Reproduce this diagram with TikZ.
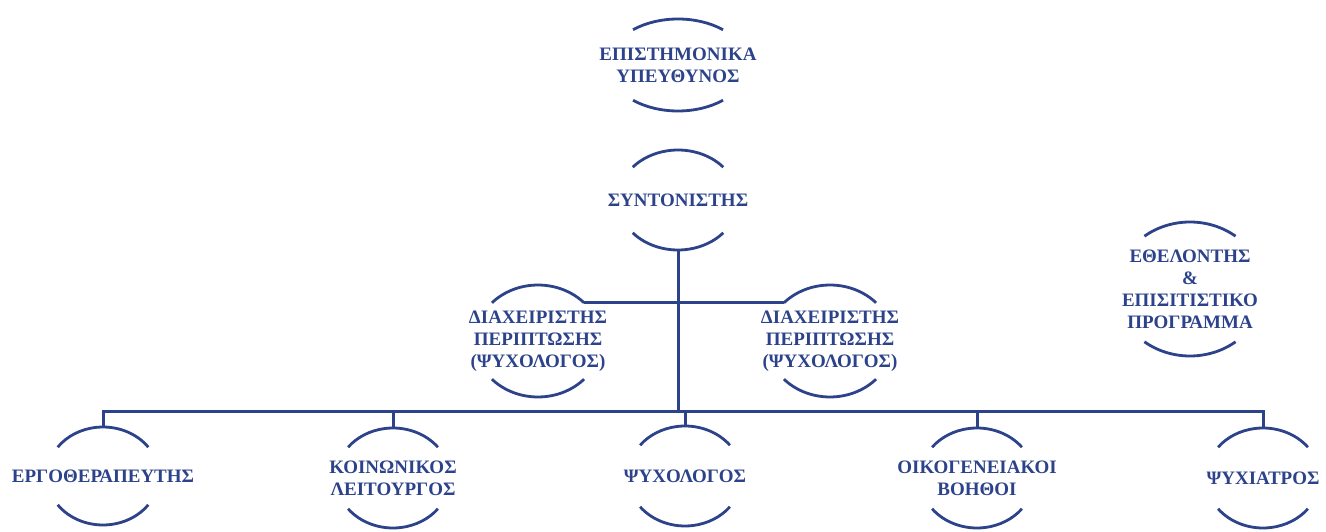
\documentclass[tikz,border=0pt]{standalone}
\usepackage{fontspec}
\setmainfont{Liberation Serif}
\definecolor{navy}{RGB}{44,66,138}

% top and bottom arcs of an oval round a node: name, x radius, y radius, start angle
\newcommand\ovalarcs[4]{%
  \draw[rim] (#1.center) ++(#4:#2 and #3) coordinate (#1-ne)
    arc[start angle=#4, end angle={180-#4}, x radius=#2, y radius=#3] coordinate (#1-nw);
  \draw[rim] (#1.center) ++({180+#4}:#2 and #3)
    arc[start angle={180+#4}, end angle={360-#4}, x radius=#2, y radius=#3];
  \path (#1.center) ++(0,#3) coordinate (#1-top);
  \path (#1.center) ++(0,-#3) coordinate (#1-bot);
}

\begin{document}
\begin{tikzpicture}[x=1pt,y=1pt]
\tikzstyle{role}=[text=navy, font=\bfseries\fontsize{19}{22}\selectfont, align=center, inner sep=0pt]
\tikzstyle{rim}=[draw=navy, line width=2.8pt]
\tikzstyle{wire}=[draw=navy, line width=3pt]

\useasboundingbox (0,0) rectangle (1326,531);

\draw (678,466) node[role] (head) {ΕΠΙΣΤΗΜΟΝΙΚΑ\\ΥΠΕΥΘΥΝΟΣ};
\draw (678,331) node[role] (synt) {ΣΥΝΤΟΝΙΣΤΗΣ};
\draw (538,190) node[role] (diaxL) {ΔΙΑΧΕΙΡΙΣΤΗΣ\\ΠΕΡΙΠΤΩΣΗΣ\\(ΨΥΧΟΛΟΓΟΣ)};
\draw (830,190) node[role] (diaxR) {ΔΙΑΧΕΙΡΙΣΤΗΣ\\ΠΕΡΙΠΤΩΣΗΣ\\(ΨΥΧΟΛΟΓΟΣ)};
\draw (1190,242) node[role] (ethel) {ΕΘΕΛΟΝΤΗΣ\\\&\\ΕΠΙΣΙΤΙΣΤΙΚΟ\\ΠΡΟΓΡΑΜΜΑ};
\draw (103,55) node[role] (ergo) {ΕΡΓΟΘΕΡΑΠΕΥΤΗΣ};
\draw (393,53) node[role] (koin) {ΚΟΙΝΩΝΙΚΟΣ\\ΛΕΙΤΟΥΡΓΟΣ};
\draw (685,55) node[role] (psy) {ΨΥΧΟΛΟΓΟΣ};
\draw (977,53) node[role] (oikog) {ΟΙΚΟΓΕΝΕΙΑΚΟΙ\\ΒΟΗΘΟΙ};
\draw (1263,53) node[role] (psyr) {ΨΥΧΙΑΤΡΟΣ};

\ovalarcs{head}{70pt}{46pt}{50}
\ovalarcs{synt}{60pt}{50pt}{41}
\ovalarcs{diaxL}{63pt}{56pt}{43}
\ovalarcs{diaxR}{63pt}{56pt}{43}
\ovalarcs{ethel}{74pt}{67pt}{52}
\ovalarcs{ergo}{56pt}{49pt}{36}
\ovalarcs{koin}{57pt}{50pt}{38}
\ovalarcs{psy}{57pt}{50pt}{38}
\ovalarcs{oikog}{57pt}{50pt}{38}
\ovalarcs{psyr}{57pt}{50pt}{38}

\coordinate (bus) at (678,120);
\draw[wire] (synt-bot) -- (bus);
\draw[wire] (diaxL-ne) -- (diaxR-nw);
\draw[wire] (ergo-top) |- (bus) -| (psyr-top);
\draw[wire] (koin-top) -- (koin-top |- bus);
\draw[wire] (psy-top) -- (psy-top |- bus);
\draw[wire] (oikog-top) -- (oikog-top |- bus);
\end{tikzpicture}
\end{document}
